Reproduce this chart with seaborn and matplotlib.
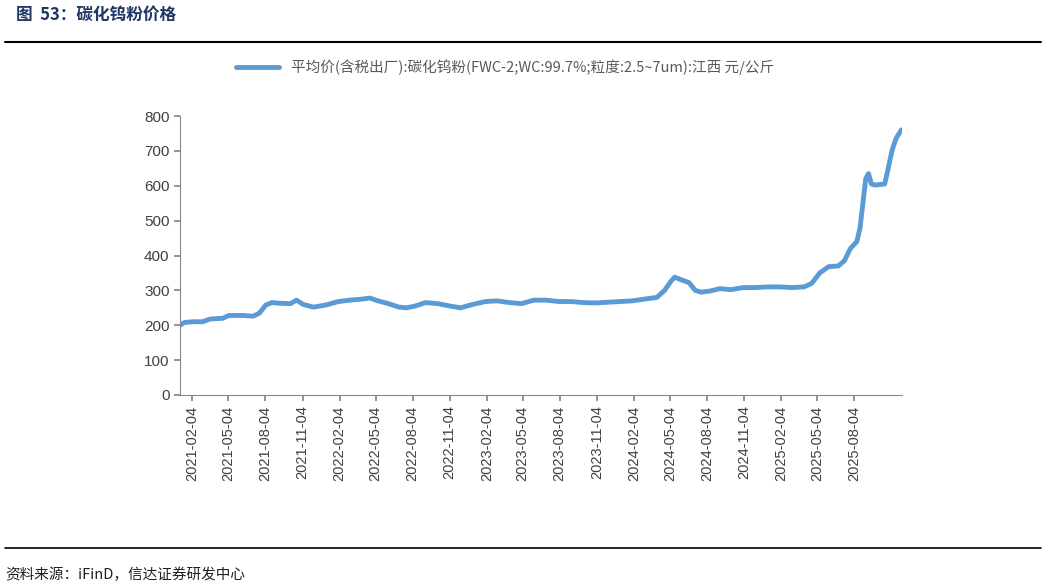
import matplotlib
matplotlib.use("Agg")
import matplotlib.pyplot as plt
import matplotlib.dates as mdates
import seaborn as sns
import pandas as pd

dates = ["2021-01-04","2021-01-15","2021-02-05","2021-03-01","2021-03-20","2021-04-20","2021-05-05","2021-06-10",
 "2021-07-05","2021-07-20","2021-08-05","2021-08-20","2021-09-10","2021-10-05","2021-10-20","2021-11-05","2021-12-01",
 "2022-01-01","2022-02-01","2022-03-01","2022-04-01","2022-04-20","2022-05-10","2022-06-05","2022-07-01","2022-07-20",
 "2022-08-10","2022-09-05","2022-10-05","2022-11-05","2022-12-01","2023-01-01","2023-02-01","2023-03-01","2023-04-01",
 "2023-05-01","2023-06-01","2023-07-01","2023-08-01","2023-09-01","2023-10-01","2023-11-01","2023-12-01","2024-01-01",
 "2024-02-01","2024-03-01","2024-04-01","2024-04-20","2024-05-05","2024-05-15","2024-06-01","2024-06-20","2024-07-05",
 "2024-07-20","2024-08-10","2024-09-05","2024-10-01","2024-11-01","2024-12-01","2025-01-01","2025-02-01","2025-03-01",
 "2025-04-01","2025-04-20","2025-05-10","2025-06-01","2025-06-25","2025-07-10","2025-07-25","2025-08-10","2025-08-18",
 "2025-09-01","2025-09-08","2025-09-15","2025-09-25","2025-10-18","2025-10-25","2025-11-05","2025-11-15","2025-11-28"]
values = [200,208,210,210,218,220,228,228,226,235,258,265,263,262,272,260,252,
 258,268,272,275,278,270,262,252,250,255,265,262,255,250,260,268,270,265,
 262,272,272,268,268,265,264,266,268,270,275,280,300,325,338,330,322,300,
 295,298,305,302,308,308,310,310,308,310,320,350,368,370,385,420,440,480,
 620,635,605,602,605,640,700,735,760]

df = pd.DataFrame({"date": pd.to_datetime(dates), "value": values})
legend_label = "平均价(含税出厂):碳化钨粉(FWC-2;WC:99.7%;粒度:2.5~7um):江西 元/公斤"

sns.set_theme(style="white")
plt.rcParams['font.family'] = ['Noto Sans CJK SC', 'DejaVu Sans']

fig = plt.figure(figsize=(10.46, 5.88), dpi=100)
ax = fig.add_axes([180/1046, 1-395/588, 722/1046, 279/588])
sns.lineplot(data=df, x="date", y="value", ax=ax, color="#5B9BD5", linewidth=3.5, label=legend_label)
ax.set_ylim(0, 800)
ax.set_yticks(range(0, 801, 100))
ax.set_xlim(pd.Timestamp("2021-01-04"), pd.Timestamp("2025-11-30"))
ticks = pd.date_range("2021-01-04", "2025-10-04", freq="3MS") + pd.Timedelta(days=3)
ax.set_xticks(ticks)
ax.xaxis.set_major_formatter(mdates.DateFormatter("%Y-%m-%d"))
plt.setp(ax.get_xticklabels(), rotation=90, fontsize=10.5, color="#404040", family="Liberation Sans")
plt.setp(ax.get_yticklabels(), fontsize=11, color="#404040", family="Liberation Sans")
ax.set_xlabel(""); ax.set_ylabel("")
for s in ["top", "right"]:
    ax.spines[s].set_visible(False)
for s in ["left", "bottom"]:
    ax.spines[s].set_color("#888888"); ax.spines[s].set_linewidth(0.8)
ax.tick_params(axis="both", length=4, color="#888888", direction="out", bottom=True, left=True)
leg = ax.legend(loc="lower center", bbox_to_anchor=(0.45, 1.1), frameon=False, fontsize=10.5, handlelength=3)
for t in leg.get_texts():
    t.set_color("#595959")

fig.text(16/1046, 1-15/588, "图  53：碳化钨粉价格", fontsize=12, fontweight="bold", color="#1F3864", va="center")
fig.add_artist(plt.Line2D([5/1046, 1041/1046], [1-42/588]*2, color="black", linewidth=1.5))
fig.add_artist(plt.Line2D([5/1046, 1041/1046], [1-548/588]*2, color="black", linewidth=1.2))
fig.text(5/1046, 1-575/588, "资料来源：iFinD，信达证券研发中心", fontsize=10.5, style="italic", color="#1F1F1F", va="center")
fig.savefig("out.png", dpi=100)
